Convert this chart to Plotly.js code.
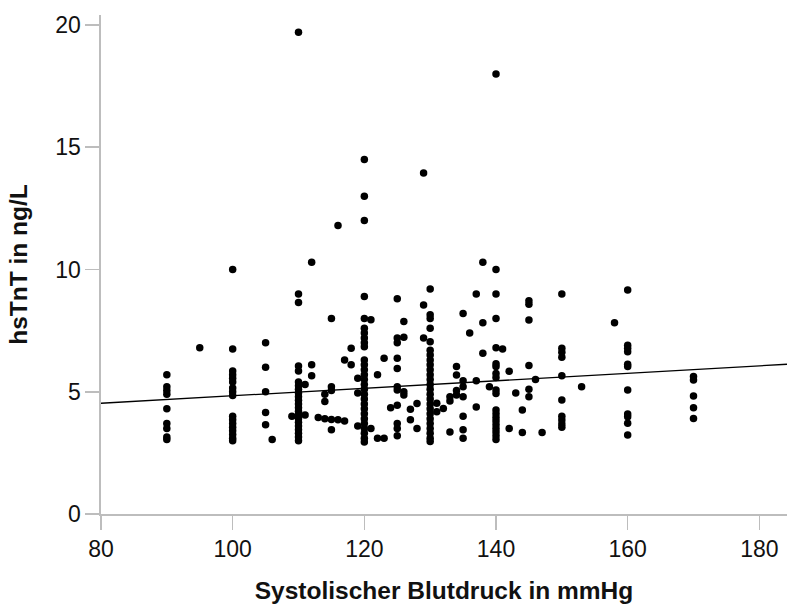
<!DOCTYPE html>
<html>
<head>
<meta charset="utf-8">
<script src="https://cdn.plot.ly/plotly-3.0.1.min.js"></script>
<style>html,body{margin:0;padding:0;background:#fff;}#chart{width:787px;height:604px;}</style>
</head>
<body>
<div id="chart"></div>
<script>
// Systolic blood pressure values (mmHg), one entry per column of points
const sbpValues = [90, 95, 100, 105, 106, 109, 110, 111, 112, 113, 114, 115, 116, 117, 118, 119,
  120, 121, 122, 123, 124, 125, 126, 127, 128, 129, 130, 131, 132, 133, 134, 135, 136, 137, 138, 139,
  140, 141, 142, 143, 144, 145, 146, 147, 150, 153, 158, 160, 170];

// hsTnT values (ng/L) observed at each systolic value above
const hstntValues = [
  [5.7, 5.2, 5.05, 4.9, 4.3, 3.7, 3.5, 3.15, 3.05],
  [6.8],
  [10.0, 6.75, 5.85, 5.7, 5.55, 5.4, 5.15, 5.0, 4.85, 4.0, 3.85, 3.7, 3.55, 3.4, 3.25, 3.1, 3.0],
  [7.0, 6.0, 5.0, 4.15, 3.65],
  [3.05],
  [4.0],
  [19.7, 9.0, 8.65, 6.05, 5.85, 5.4, 5.25, 5.1, 4.95, 4.8, 4.65, 4.5, 4.35, 4.2, 4.05, 3.9, 3.75, 3.6, 3.45, 3.3, 3.15, 3.0],
  [5.3, 4.05],
  [10.3, 6.1, 5.65],
  [3.95],
  [4.9, 4.6, 3.9],
  [8.0, 5.2, 5.05, 3.87, 3.45],
  [11.8, 3.85],
  [6.3, 3.8],
  [6.78, 6.1],
  [5.55, 4.95, 3.6],
  [14.5, 13.0, 12.0, 8.9, 8.0, 7.6, 7.4, 7.2, 7.0, 6.84, 6.3, 6.1, 5.9, 5.7, 5.5, 5.3, 5.1, 4.9, 4.7, 4.5, 4.3, 4.1, 3.9, 3.7, 3.5, 3.3, 3.1, 2.95],
  [7.95, 3.5],
  [5.7, 3.1],
  [6.37, 3.1],
  [4.35],
  [8.8, 7.2, 7.0, 6.37, 5.95, 5.2, 5.07, 4.45, 3.7, 3.5, 3.2],
  [7.87, 7.23, 5.0, 4.87],
  [4.28, 3.85],
  [4.52, 3.5],
  [13.95, 8.55, 7.2],
  [9.2, 8.15, 8.0, 7.6, 7.05, 6.7, 6.5, 6.3, 6.1, 5.9, 5.7, 5.5, 5.3, 5.1, 4.9, 4.7, 4.5, 4.3, 4.1, 3.9, 3.7, 3.5, 3.3, 3.1, 2.97],
  [4.53, 4.18],
  [4.32],
  [4.8, 4.62, 3.35],
  [6.03, 5.69, 5.05, 4.87],
  [8.2, 5.45, 5.2, 4.8, 4.0, 3.45, 3.1],
  [7.4],
  [9.0, 5.45, 4.38],
  [10.3, 7.82, 6.57],
  [5.2],
  [18.0, 10.0, 9.0, 8.0, 6.8, 6.15, 6.03, 5.75, 5.58, 5.07, 4.93, 4.25, 4.1, 3.95, 3.8, 3.65, 3.5, 3.35, 3.2, 3.05],
  [6.75],
  [5.84, 3.5],
  [4.95],
  [4.25, 3.33],
  [8.72, 8.58, 7.93, 6.07, 5.1, 4.8],
  [5.5],
  [3.33],
  [9.0, 6.78, 6.62, 6.41, 5.65, 4.66, 4.0, 3.84, 3.68, 3.55],
  [5.2],
  [7.82],
  [9.16, 6.9, 6.78, 6.64, 6.13, 6.03, 5.07, 4.09, 3.98, 3.71, 3.23],
  [5.62, 5.48, 4.83, 4.35, 3.91]
];

// Linear fit line (hsTnT = intercept + slope * SBP)
const fitIntercept = 3.306;
const fitSlope = 0.0153;

const xTickValues = [80, 100, 120, 140, 160, 180];
const yTickValues = [0, 5, 10, 15, 20];
const xRange = [80, 184.2];
const yRange = [0, 20.41];

const xs = [], ys = [];
sbpValues.forEach((sbp, i) => {
  hstntValues[i].forEach(v => { xs.push(sbp); ys.push(v); });
});

const fitX = [xRange[0], xRange[1]];
const fitY = fitX.map(x => fitIntercept + fitSlope * x);

const axisColor = '#bdbdbd';
const fontFam = '"Liberation Sans", Arial, sans-serif';

const data = [
  {
    type: 'scatter', mode: 'markers', x: xs, y: ys,
    marker: {color: '#000000', size: 7.5, line: {width: 0}},
    hoverinfo: 'x+y', showlegend: false, cliponaxis: false
  },
  {
    type: 'scatter', mode: 'lines', x: fitX, y: fitY,
    line: {color: '#000000', width: 1.3}, showlegend: false, hoverinfo: 'skip'
  }
];

const layout = {
  width: 787, height: 604,
  margin: {l: 101, r: 0, t: 15, b: 90, pad: 0},
  paper_bgcolor: '#ffffff', plot_bgcolor: '#ffffff',
  font: {family: fontFam, color: '#000000'},
  showlegend: false,
  xaxis: {
    range: xRange, tickvals: xTickValues, ticktext: xTickValues.map(String),
    showgrid: false, zeroline: false, showline: true, linecolor: axisColor, linewidth: 1.6,
    ticks: 'outside', ticklen: 14, tickwidth: 1.6, tickcolor: axisColor,
    tickfont: {size: 23, family: fontFam, color: '#111111'},
    title: {text: '<b>Systolischer Blutdruck in mmHg</b>', font: {size: 24.5, family: fontFam, color: '#111111'}, standoff: 22}
  },
  yaxis: {
    range: yRange, tickvals: yTickValues, ticktext: yTickValues.map(String),
    showgrid: false, zeroline: false, showline: true, linecolor: axisColor, linewidth: 1.6,
    ticks: 'outside', ticklen: 14, tickwidth: 1.6, tickcolor: axisColor,
    tickfont: {size: 23, family: fontFam, color: '#111111'},
    title: {text: '<b>hsTnT in ng/L</b>', font: {size: 24.5, family: fontFam, color: '#111111'}, standoff: 20}
  }
};

Plotly.newPlot('chart', data, layout, {displayModeBar: false, staticPlot: true});
</script>
</body>
</html>
